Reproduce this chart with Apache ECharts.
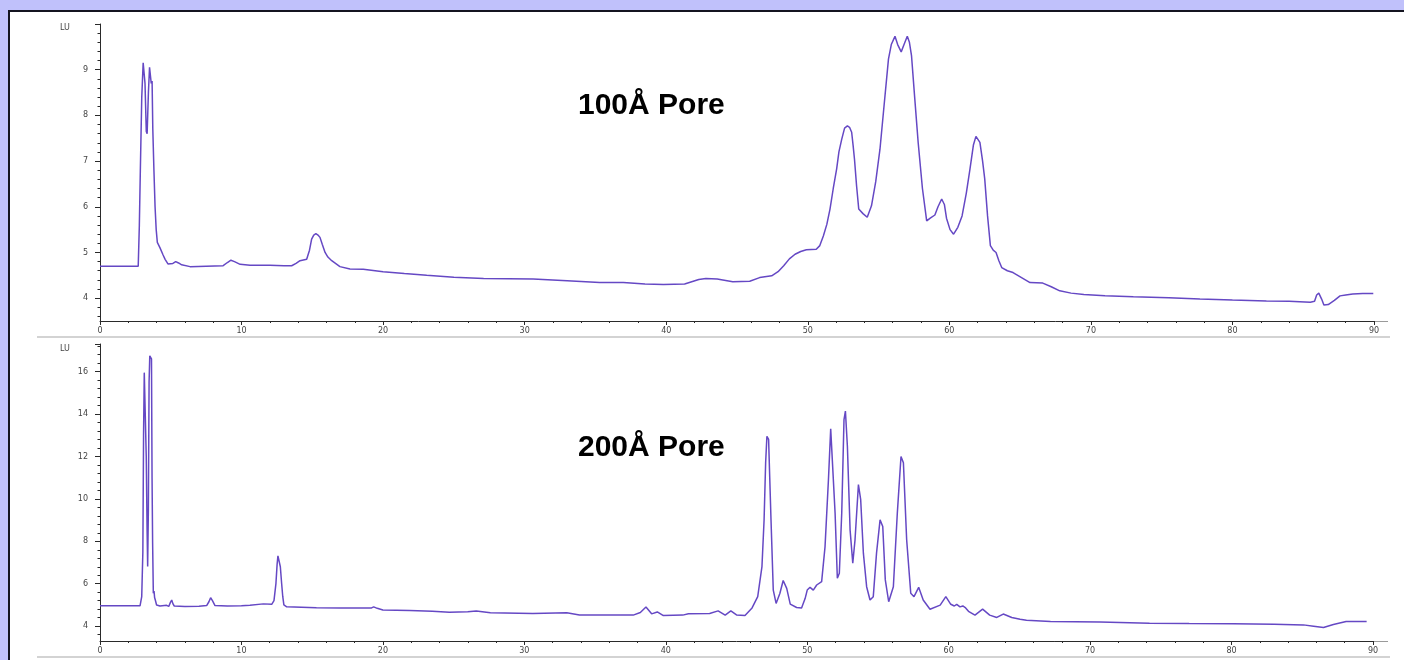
<!DOCTYPE html>
<html>
<head>
<meta charset="utf-8">
<script src="https://cdn.jsdelivr.net/npm/echarts@6/dist/echarts.min.js"></script>
<style>
  html, body { margin: 0; padding: 0; background: #c0c1fb; width: 1404px; height: 660px; overflow: hidden; }
  #panel { position: absolute; left: 8px; top: 10px; width: 1396px; height: 650px; background: #ffffff;
           border-left: 2px solid #141420; border-top: 2px solid #141420; box-sizing: border-box; }
  #chart { position: absolute; left: 0; top: 0; width: 1404px; height: 660px; }
</style>
</head>
<body>
<div id="panel"></div>
<div id="chart"></div>
<script>
// ---- Data: retention time (min) and signal (LU) ----
const t100 = [0, 2.0, 2.70, 2.78, 2.85, 2.95, 3.05, 3.11, 3.18, 3.27, 3.33, 3.42, 3.50, 3.56, 3.62, 3.68, 3.73, 3.81, 3.89, 3.97,
  4.05, 4.24, 4.45, 4.6, 4.8, 4.94, 5.15, 5.35, 5.55, 5.77, 6.36, 7.5, 8.7, 9.0, 9.25, 9.5, 9.9, 10.6, 12.0, 13.0,
  13.54, 13.85, 14.13, 14.6, 14.8, 14.95, 15.1, 15.25, 15.4, 15.54, 15.7, 15.9, 16.1, 16.37, 16.95, 17.66, 18.6, 20.0, 21.5, 23.08,
  25.0, 27.1, 30.6, 33.0, 35.3, 36.97, 38.5, 39.8, 41.3, 41.8, 42.3, 42.8, 43.6, 44.7, 45.9, 46.6, 47.45, 47.9, 48.3, 48.7,
  49.1, 49.5, 49.9, 50.6, 50.85, 51.1, 51.35, 51.57, 51.8, 52.04, 52.2, 52.4, 52.6, 52.8, 52.95, 53.1, 53.2, 53.3, 53.45, 53.6,
  53.9, 54.2, 54.5, 54.8, 55.1, 55.4, 55.7, 55.9, 56.16, 56.35, 56.6, 56.8, 57.03, 57.18, 57.33, 57.55, 57.8, 58.1, 58.4, 58.65,
  58.98, 59.2, 59.46, 59.65, 59.8, 60.05, 60.3, 60.6, 60.9, 61.2, 61.46, 61.7, 61.88, 62.0, 62.16, 62.35, 62.5, 62.7, 62.9, 63.1,
  63.3, 63.5, 63.7, 64.1, 64.5, 65.1, 65.7, 66.6, 67.2, 67.8, 68.6, 69.5, 71.0, 73.0, 75.5, 77.7, 80.0, 82.4, 84.0, 85.5,
  85.8, 85.95, 86.1, 86.2, 86.3, 86.46, 86.77, 87.2, 87.6, 88.0, 88.5, 89.2, 89.95];
const lu100 = [4.70, 4.70, 4.70, 5.6, 6.8, 8.4, 9.15, 9.19, 8.7, 7.65, 7.6, 8.5, 9.05, 9.07, 8.7, 8.75, 7.7, 6.8, 6.0, 5.5,
  5.22, 5.1, 4.95, 4.85, 4.75, 4.72, 4.76, 4.80, 4.77, 4.73, 4.69, 4.70, 4.71, 4.78, 4.83, 4.80, 4.74, 4.72, 4.72, 4.71,
  4.71, 4.76, 4.82, 4.85, 5.05, 5.29, 5.38, 5.41, 5.38, 5.33, 5.18, 5.0, 4.9, 4.82, 4.69, 4.64, 4.63, 4.58, 4.54, 4.50,
  4.46, 4.43, 4.42, 4.38, 4.34, 4.34, 4.31, 4.30, 4.31, 4.36, 4.41, 4.43, 4.42, 4.36, 4.37, 4.45, 4.49, 4.58, 4.71, 4.86,
  4.96, 5.02, 5.06, 5.07, 5.15, 5.36, 5.62, 5.95, 6.4, 6.83, 7.2, 7.48, 7.72, 7.77, 7.74, 7.63, 7.35, 7.04, 6.45, 5.95,
  5.85, 5.77, 6.02, 6.55, 7.26, 8.25, 9.23, 9.55, 9.73, 9.55, 9.39, 9.55, 9.73, 9.6, 9.3, 8.4, 7.4, 6.4, 5.69, 5.75,
  5.82, 6.0, 6.17, 6.05, 5.75, 5.5, 5.40, 5.55, 5.80, 6.3, 6.83, 7.35, 7.54, 7.55, 7.41, 7.0, 6.61, 5.8, 5.15, 5.05,
  5.0, 4.82, 4.67, 4.60, 4.56, 4.45, 4.34, 4.33, 4.25, 4.16, 4.11, 4.08, 4.05, 4.03, 4.01, 3.98, 3.96, 3.94, 3.93, 3.91,
  3.93, 4.07, 4.11, 4.07, 3.98, 3.85, 3.86, 3.95, 4.05, 4.07, 4.09, 4.10, 4.10];

const t200 = [0, 2.83, 2.95, 3.03, 3.08, 3.13, 3.21, 3.27, 3.33, 3.37, 3.42, 3.47, 3.52, 3.64, 3.68, 3.72, 3.77, 3.82, 3.86, 3.91,
  4.0, 4.24, 4.71, 4.86, 4.98, 5.07, 5.16, 5.25, 6.0, 7.0, 7.54, 7.7, 7.82, 7.95, 8.13, 9.0, 10.0, 10.6, 11.55, 12.14,
  12.3, 12.44, 12.52, 12.58, 12.68, 12.75, 12.84, 12.92, 13.0, 13.2, 15.3, 17.0, 19.2, 19.35, 19.6, 20.0, 21.9, 23.5, 24.7, 26.0,
  26.6, 27.6, 30.6, 33.0, 33.9, 36.8, 37.7, 38.2, 38.6, 39.0, 39.4, 39.83, 41.2, 41.6, 43.1, 43.7, 44.2, 44.6, 45.0, 45.6,
  46.1, 46.5, 46.8, 46.95, 47.06, 47.15, 47.27, 47.35, 47.44, 47.6, 47.8, 48.07, 48.3, 48.55, 48.8, 49.25, 49.6, 49.85, 50.0, 50.2,
  50.43, 50.67, 51.02, 51.26, 51.5, 51.66, 51.8, 51.97, 52.13, 52.27, 52.44, 52.6, 52.7, 52.84, 53.03, 53.22, 53.38, 53.62, 53.78, 53.97,
  54.2, 54.44, 54.67, 54.9, 55.15, 55.34, 55.52, 55.76, 56.09, 56.37, 56.63, 56.8, 57.03, 57.32, 57.55, 57.88, 58.2, 58.68, 59.4, 59.8,
  60.15, 60.4, 60.57, 60.8, 61.0, 61.2, 61.4, 61.86, 62.4, 62.9, 63.4, 63.86, 64.46, 65.05, 65.5, 67.2, 70.7, 74.2, 77.0, 80.1,
  83.0, 85.08, 85.8, 86.5, 87.2, 88.1, 89.55];
const lu200 = [4.96, 4.96, 5.39, 7.5, 13.0, 15.95, 15.9, 12.0, 8.5, 6.81, 9.5, 15.5, 16.74, 16.6, 11.0, 7.92, 5.55, 5.65, 5.35, 5.23,
  5.0, 4.95, 4.98, 4.93, 5.12, 5.23, 5.05, 4.95, 4.93, 4.94, 4.97, 5.15, 5.34, 5.2, 4.97, 4.95, 4.96, 4.99, 5.05, 5.03,
  5.2, 6.02, 6.9, 7.31, 7.28, 6.8, 6.02, 5.4, 5.0, 4.91, 4.87, 4.86, 4.86, 4.91, 4.84, 4.76, 4.74, 4.70, 4.66, 4.68,
  4.71, 4.63, 4.60, 4.63, 4.53, 4.52, 4.52, 4.64, 4.90, 4.58, 4.67, 4.50, 4.52, 4.58, 4.60, 4.72, 4.52, 4.72, 4.53, 4.50,
  4.86, 5.39, 6.81, 9.0, 11.7, 12.95, 12.8, 11.0, 9.0, 5.7, 5.07, 5.55, 6.15, 5.78, 5.04, 4.88, 4.86, 5.3, 5.70, 5.83,
  5.70, 5.94, 6.1, 7.75, 10.9, 13.3, 13.25, 9.33, 6.26, 6.49, 9.33, 13.74, 14.14, 12.48, 8.54, 6.97, 8.07, 10.67, 9.96, 7.44,
  5.86, 5.23, 5.39, 7.44, 9.01, 8.70, 6.18, 5.15, 5.86, 9.33, 12.0, 11.7, 8.07, 5.55, 5.39, 5.83, 5.23, 4.80, 4.99, 5.39,
  5.03, 4.95, 5.03, 4.91, 4.95, 4.86, 4.70, 4.52, 4.80, 4.52, 4.41, 4.57, 4.41, 4.33, 4.28, 4.22, 4.19, 4.14, 4.12, 4.11,
  4.09, 4.06, 4.00, 3.94, 4.08, 4.22, 4.22];

// ---- Axis ticks / labels ----
const xTicks = [0, 10, 20, 30, 40, 50, 60, 70, 80, 90];
const yLabels100 = [4, 5, 6, 7, 8, 9];
const yLabels200 = [4, 6, 8, 10, 12, 14, 16];
const yRange100 = [3.5, 10];
const yRange200 = [3.3, 17.3];
const minorStep100 = 0.2;
const minorStep200 = 0.4;
const titles = ['100Å Pore', '200Å Pore'];
const unitLabel = 'LU';

function minorTicks(range, step) {
  const out = [];
  const start = Math.ceil(range[0] / step - 1e-9) * step;
  for (let v = start; v <= range[1] + 1e-9; v += step) out.push(Math.round(v * 100) / 100);
  return out;
}
function zip(a, b) { return a.map((v, i) => [v, b[i]]); }

const AX = '#2a2a2a';
const LBL = { color: '#444', fontFamily: 'DejaVu Sans', fontSize: 8 };
const LINE = '#6548c4';

function xAxisFor(gridIndex) {
  return {
    type: 'value', gridIndex, min: 0, max: 90, interval: 10,
    axisLine: { show: true, lineStyle: { color: AX, width: 1 } },
    axisTick: { show: true, length: 4, lineStyle: { color: AX } },
    minorTick: { show: true, splitNumber: 5, length: 2, lineStyle: { color: AX } },
    axisLabel: Object.assign({ margin: 6 }, LBL),
    splitLine: { show: false }, minorSplitLine: { show: false }
  };
}
function yAxesFor(gridIndex, range, labels, step) {
  const majors = labels.concat([range[1]]);
  return [{
    type: 'value', gridIndex, min: range[0], max: range[1], position: 'left',
    axisLine: { show: true, lineStyle: { color: AX, width: 1 } },
    axisTick: { show: true, length: 5, customValues: majors, lineStyle: { color: AX } },
    axisLabel: Object.assign({ margin: 12, customValues: labels }, LBL),
    splitLine: { show: false }
  }, {
    type: 'value', gridIndex, min: range[0], max: range[1], position: 'left',
    axisLine: { show: false },
    axisTick: { show: true, length: 2.5, customValues: minorTicks(range, step), lineStyle: { color: AX } },
    axisLabel: { show: false },
    splitLine: { show: false }
  }];
}

const chart = echarts.init(document.getElementById('chart'), null, { renderer: 'canvas' });
const option = {
  animation: false,
  backgroundColor: 'transparent',
  grid: [
    { left: 100, top: 24, width: 1274, height: 297 },
    { left: 100, top: 344, width: 1273, height: 297 }
  ],
  xAxis: [xAxisFor(0), xAxisFor(1)],
  yAxis: [].concat(yAxesFor(0, yRange100, yLabels100, minorStep100), yAxesFor(1, yRange200, yLabels200, minorStep200)),
  series: [
    { type: 'line', xAxisIndex: 0, yAxisIndex: 0, data: zip(t100, lu100), showSymbol: false, smooth: false,
      lineStyle: { color: LINE, width: 1.5 }, z: 3 },
    { type: 'line', xAxisIndex: 1, yAxisIndex: 2, data: zip(t200, lu200), showSymbol: false, smooth: false,
      lineStyle: { color: LINE, width: 1.5 }, z: 3 }
  ],
  graphic: [
    { type: 'text', left: 60, top: 24, style: { text: unitLabel, fill: '#444', font: '8px "DejaVu Sans"' } },
    { type: 'text', left: 60, top: 345, style: { text: unitLabel, fill: '#444', font: '8px "DejaVu Sans"' } },
    { type: 'text', x: 578, y: 106, style: { text: titles[0], fill: '#000', font: 'bold 30px "Liberation Sans", Arial, sans-serif', textVerticalAlign: 'middle' } },
    { type: 'text', x: 578, y: 448, style: { text: titles[1], fill: '#000', font: 'bold 30px "Liberation Sans", Arial, sans-serif', textVerticalAlign: 'middle' } },
    { type: 'line', shape: { x1: 37, y1: 337, x2: 1390, y2: 337 }, style: { stroke: '#c4c4c4', lineWidth: 1.5 } },
    { type: 'line', shape: { x1: 37, y1: 657, x2: 1390, y2: 657 }, style: { stroke: '#c4c4c4', lineWidth: 1.5 } },
    { type: 'line', shape: { x1: 1374, y1: 321.5, x2: 1388, y2: 321.5 }, style: { stroke: '#9a9a9a', lineWidth: 1 } },
    { type: 'line', shape: { x1: 1373, y1: 641.5, x2: 1388, y2: 641.5 }, style: { stroke: '#9a9a9a', lineWidth: 1 } }
  ]
};
chart.setOption(option);
</script>
</body>
</html>
